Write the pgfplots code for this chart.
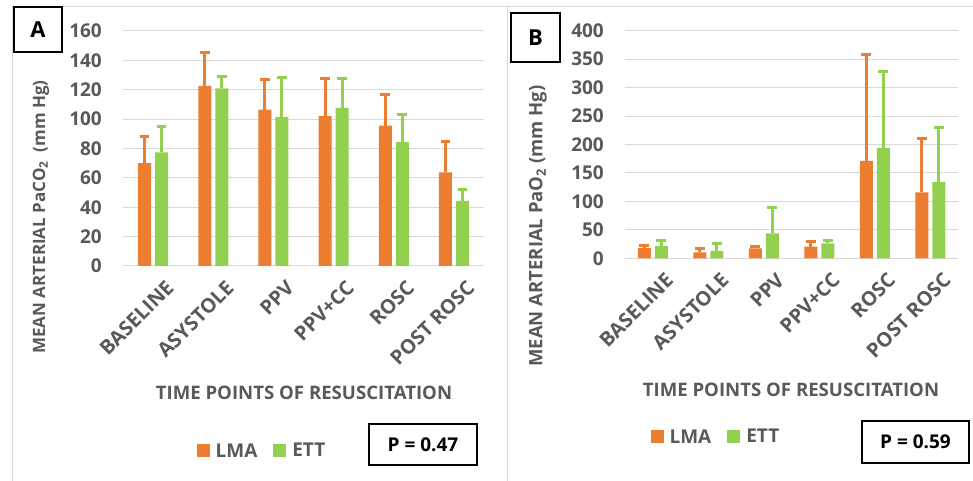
\documentclass[border=0pt]{standalone}
\usepackage{fontspec}
\setmainfont{Open Sans}
\usepackage{pgfplots}
\pgfplotsset{compat=1.18}
\usepackage{pgfplotstable}
\definecolor{lma}{HTML}{ED7D31}
\definecolor{ett}{HTML}{92D050}
\definecolor{txt}{HTML}{595959}
\definecolor{grd}{HTML}{D9D9D9}

\pgfplotstableread{
x y e
0 70 18
1 122.6 23
2 106.4 20.5
3 102.1 25.5
4 95.5 21
5 63.8 21
}\alma
\pgfplotstableread{
x y e
0 77.4 17.8
1 121 8
2 101.4 27
3 107.6 20
4 84.4 19
5 44.3 8
}\aett
\pgfplotstableread{
x y e
0 18 4
1 10.5 6
2 17.6 4
3 20.4 8.5
4 171.3 187
5 116 94
}\blma
\pgfplotstableread{
x y e
0 21.7 9.5
1 12.9 12.5
2 44 46
3 26 5.5
4 193.7 134
5 134 95.5
}\bett

\pgfplotsset{
 panel/.style={
  scale only axis, ybar=4bp, bar width=13bp,
  xmin=-0.5, xmax=5.5, ymin=0,
  xtick={0,...,5}, xticklabels={BASELINE,ASYSTOLE,PPV,PPV+CC,ROSC,POST ROSC},
  major tick length=0pt,
  axis line style={draw=none},
  ymajorgrids, grid style={grd, line width=1bp},
  /pgf/number format/assume math mode=true,
  ticklabel style={font=\fontsize{19bp}{21bp}\selectfont\bfseries, text=txt},
  yticklabel style={anchor=east, inner sep=0pt, xshift=-21bp},
  xticklabel style={rotate=45, anchor=east, inner sep=0pt, xshift=-1bp, yshift=-25bp, font=\fontsize{20bp}{22bp}\selectfont\bfseries},
  legend columns=2,
  legend style={draw=none, fill=none, font=\fontsize{19bp}{21bp}\selectfont\bfseries, text=txt, anchor=center, inner sep=0pt,
    /tikz/every even column/.append style={column sep=14bp},
    /tikz/every odd column/.append style={column sep=0bp}},
 },
 lmaplot/.style={fill=lma, draw=none,
   error bars/y dir=plus, error bars/y explicit,
   error bars/error bar style={line width=3bp, lma},
   error bars/error mark options={rotate=90, mark size=4.8bp, line width=3bp, lma}},
 ettplot/.style={fill=ett, draw=none,
   error bars/y dir=plus, error bars/y explicit,
   error bars/error bar style={line width=3bp, ett},
   error bars/error mark options={rotate=90, mark size=4.8bp, line width=3bp, ett}},
}

\begin{document}
\begin{tikzpicture}[x=1bp,y=1bp]
\useasboundingbox (0,0) rectangle (973,481);
% panel frames
\draw[grd, line width=1bp] (12,0) -- (12,474) -- (973,474);
\draw[grd, line width=1bp] (507,0) -- (507,474);

\begin{axis}[panel, at={(123bp,215bp)}, anchor=south west, width=361bp, height=235bp,
  ymax=160, ytick={0,20,...,160},
  legend style={at={(0.385,-0.787)}},
  legend image code/.code={\fill[#1] (0bp,-6.5bp) rectangle (13bp,6.5bp);}]
\addplot[lmaplot] table[x=x, y=y, y error=e] {\alma};
\addplot[ettplot] table[x=x, y=y, y error=e] {\aett};
\legend{\hspace{4bp}LMA, \hspace{4bp}ETT}
\end{axis}

\begin{axis}[panel, at={(625bp,222.7bp)}, anchor=south west, width=333bp, height=227.6bp,
  ymax=400, ytick={0,50,...,400},
  legend style={at={(0.273,-0.785)}},
  legend image code/.code={\fill[#1] (0bp,-6.5bp) rectangle (13bp,6.5bp);}]
\addplot[lmaplot] table[x=x, y=y, y error=e] {\blma};
\addplot[ettplot] table[x=x, y=y, y error=e] {\bett};
\legend{\hspace{4bp}LMA, \hspace{4bp}ETT}
\end{axis}

% panel letters
\draw[black, line width=1.2bp] (14,429) rectangle (62,474);
\node[font=\fontsize{22bp}{24bp}\selectfont\bfseries] at (38,451.5) {A};
\draw[black, line width=1.2bp] (511,419) rectangle (560,468);
\node[font=\fontsize{22bp}{24bp}\selectfont\bfseries] at (535.5,443.5) {B};

% axis titles
\node[rotate=90, text=txt, font=\fontsize{17bp}{20bp}\selectfont\bfseries] at (41,264) {MEAN ARTERIAL PaCO\textsubscript{2}\ \ (mm Hg)};
\node[rotate=90, text=txt, font=\fontsize{18.5bp}{20bp}\selectfont\bfseries] at (538,255) {MEAN ARTERIAL PaO\textsubscript{2} (mm Hg)};
\node[text=txt, font=\fontsize{18.6bp}{20bp}\selectfont\bfseries] at (304,88) {TIME POINTS OF RESUSCITATION};
\node[text=txt, font=\fontsize{18.6bp}{20bp}\selectfont\bfseries] at (791,91) {TIME POINTS OF RESUSCITATION};

% P value boxes
\draw[black, line width=1.2bp] (369,16) rectangle (477,57);
\node[font=\fontsize{19bp}{21bp}\selectfont\bfseries] at (423,36.5) {P = 0.47};
\draw[black, line width=1.2bp] (862,18) rectangle (969,60);
\node[font=\fontsize{19bp}{21bp}\selectfont\bfseries] at (915.5,39) {P = 0.59};
\end{tikzpicture}
\end{document}
